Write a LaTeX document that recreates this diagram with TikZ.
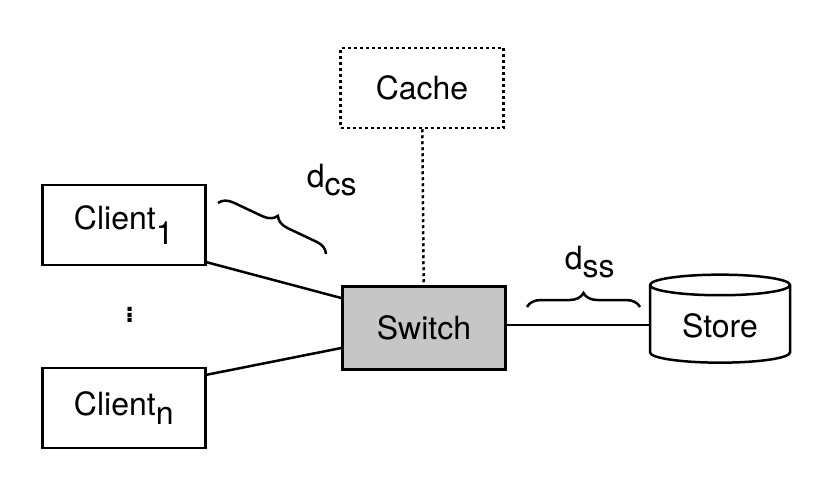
\documentclass[tikz,border=0pt]{standalone}
\usepackage{fontspec}
\setmainfont{TeX Gyre Heros}
\usetikzlibrary{shapes.geometric, decorations.pathreplacing, positioning}

\begin{document}
\begin{tikzpicture}[
    x=1pt, y=-1pt,
    box/.style={draw, line width=2.5pt, minimum width=163pt, minimum height=80pt, font=\fontsize{32}{38}\selectfont},
    store/.style={draw, line width=2.5pt, cylinder, shape border rotate=90, aspect=0.25, minimum width=140pt, minimum height=88pt, font=\fontsize{32}{38}\selectfont},
    link/.style={line width=2.5pt},
    gap/.style={decorate, decoration={brace, amplitude=14pt}, line width=2.5pt},
    lbl/.style={font=\fontsize{32}{38}\selectfont}
]
    \useasboundingbox (0,0) rectangle (830,490);

    % Nodes
    \node[box, dashed] (cache) at (422,88) {Cache};
    \node[box] (client1) at (124,225) {Client$_{\textrm{1}}$};
    \node[box] (clientn) at (124,408) {Client$_{\textrm{n}}$};
    \node[box, fill=gray!45, minimum height=83pt] (switch) at (424,328) {Switch};
    \node[store] (store) at (720,326) {Store};
    \node[lbl, font=\fontsize{40}{40}\selectfont] (dots) at (130,312) {$\vdots$};

    % Links
    \draw[link] (client1.south east) ++(0,-4) coordinate (c1) -- (switch.west |- 0,298);
    \draw[link] (clientn.north east) ++(0,8) coordinate (cn) -- (switch.west |- 0,348);
    \draw[link, dashed] (cache) -- (switch);
    \draw[link] (switch.east |- 0,325) -- (store.west |- 0,325);

    % Distances
    \coordinate (b1) at (218,203);
    \coordinate (b2) at (326,254);
    \draw[gap] (b1) -- (b2);
    \node[lbl] (dcs) at (332,180) {d$_{\textrm{cs}}$};
    \coordinate (b3) at (527,307);
    \coordinate (b4) at (640,307);
    \draw[gap] (b3) -- (b4);
    \node[lbl] (dss) at (590,262) {d$_{\textrm{ss}}$};
\end{tikzpicture}
\end{document}
